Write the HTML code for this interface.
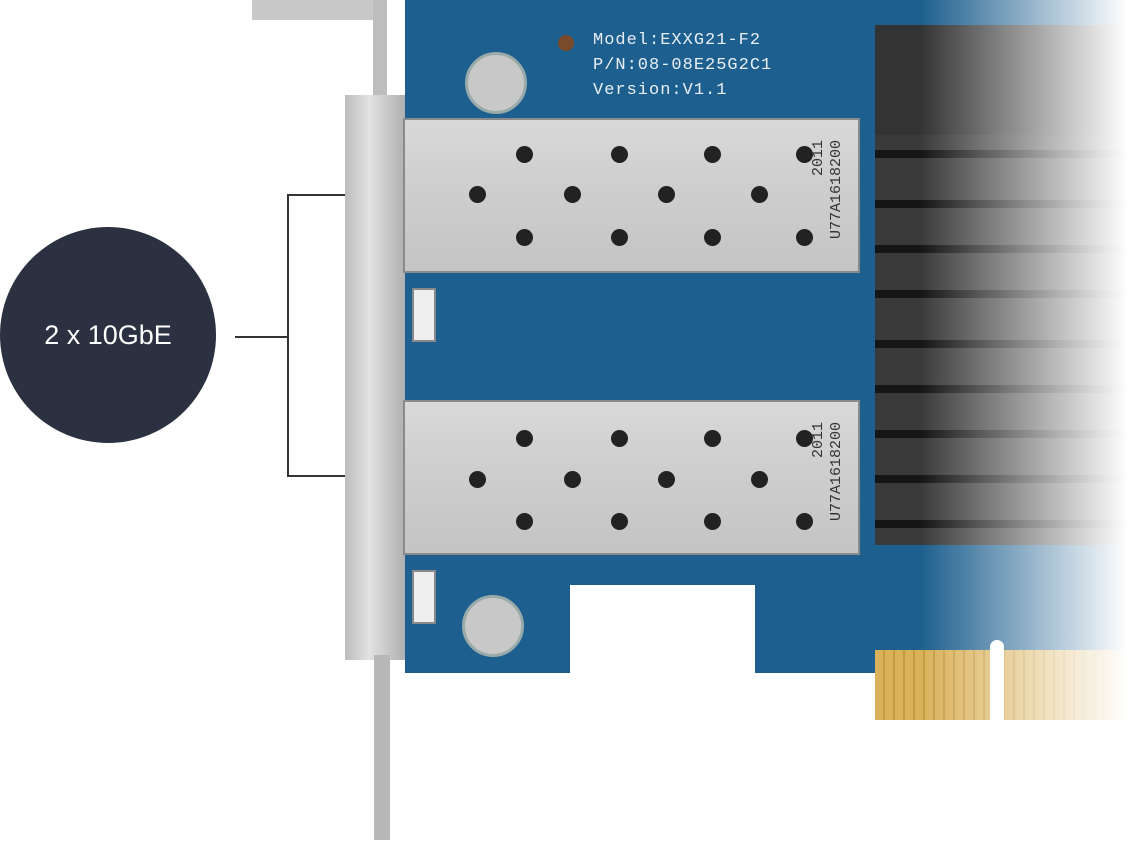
<!DOCTYPE html>
<html><head><style>
body{margin:0;width:1128px;height:848px;background:#fff;position:relative;overflow:hidden;font-family:"Liberation Sans",sans-serif}
.a{position:absolute}
.pcb{background:#1d5f8e}
.cage{background:linear-gradient(#d9d9d9,#cfcfcf 40%,#c4c4c4);border:2px solid #8a8a8a;box-sizing:border-box}
.h{position:absolute;width:17px;height:17px;border-radius:50%;background:#222}
.fin{position:absolute;left:0;right:0;height:8px;background:#151515}
.txt{color:#e8eef4;font-family:"Liberation Mono",monospace}
</style></head><body>
<div class="a pcb" style="left:405px;top:0;width:723px;height:585px"></div>
<div class="a pcb" style="left:405px;top:585px;width:165px;height:88px"></div>
<div class="a pcb" style="left:755px;top:585px;width:120px;height:88px"></div>
<div class="a pcb" style="left:875px;top:585px;width:253px;height:70px"></div>
<div class="a" style="left:875px;top:650px;width:253px;height:70px;background:repeating-linear-gradient(90deg,#d9b15a 0 8px,#c69a40 8px 10px)"></div>
<div class="a" style="left:990px;top:640px;width:14px;height:90px;background:#fff;border-radius:7px"></div>
<div class="a" style="left:875px;top:25px;width:253px;height:520px;background:#3a3a3a">
<div style="position:absolute;left:0;top:0;right:0;height:110px;background:#333"></div>
<div class="fin" style="top:125px"></div><div class="fin" style="top:175px"></div><div class="fin" style="top:220px"></div><div class="fin" style="top:265px"></div><div class="fin" style="top:315px"></div><div class="fin" style="top:360px"></div><div class="fin" style="top:405px"></div><div class="fin" style="top:450px"></div><div class="fin" style="top:495px"></div>
</div>
<div class="a" style="left:920px;top:0;width:208px;height:848px;background:linear-gradient(90deg,rgba(255,255,255,0),rgba(255,255,255,.55) 55%,#fff)"></div>
<div class="a txt" style="left:593px;top:28px;font-size:17px;line-height:25px;letter-spacing:1px">Model:EXXG21-F2<br>P/N:08-08E25G2C1<br>Version:V1.1</div>
<div class="a" style="left:558px;top:35px;width:16px;height:16px;border-radius:50%;background:#7a4a2a"></div>
<div class="a" style="left:465px;top:52px;width:56px;height:56px;border-radius:50%;background:#c8c8c8;border:3px solid #9aa"></div>
<div class="a" style="left:462px;top:595px;width:56px;height:56px;border-radius:50%;background:#c8c8c8;border:3px solid #9aa"></div>
<div class="a" style="left:252px;top:0;width:135px;height:20px;background:#c8c8c8"></div>
<div class="a" style="left:373px;top:0;width:14px;height:100px;background:#bdbdbd"></div>
<div class="a" style="left:345px;top:95px;width:60px;height:565px;background:linear-gradient(90deg,#bcbcbc,#e2e2e2 40%,#b0b0b0)"></div>
<div class="a" style="left:374px;top:655px;width:16px;height:185px;background:#b8b8b8"></div>
<div class="a" style="left:412px;top:288px;width:20px;height:50px;background:#eee;border:2px solid #888"></div>
<div class="a" style="left:412px;top:570px;width:20px;height:50px;background:#eee;border:2px solid #888"></div>
<div class="a cage" style="left:403px;top:118px;width:457px;height:155px">
<div class="h" style="left:111px;top:26px"></div><div class="h" style="left:206px;top:26px"></div><div class="h" style="left:299px;top:26px"></div><div class="h" style="left:391px;top:26px"></div>
<div class="h" style="left:64px;top:66px"></div><div class="h" style="left:159px;top:66px"></div><div class="h" style="left:253px;top:66px"></div><div class="h" style="left:346px;top:66px"></div>
<div class="h" style="left:111px;top:109px"></div><div class="h" style="left:206px;top:109px"></div><div class="h" style="left:299px;top:109px"></div><div class="h" style="left:391px;top:109px"></div>
<div style="position:absolute;left:405px;top:20px;transform:rotate(-90deg) translate(-100%,0);transform-origin:0 0;font:15px 'Liberation Mono',monospace;color:#333;line-height:18px;white-space:nowrap;text-align:right;width:110px">2011<br>U77A1618200</div>
</div>
<div class="a cage" style="left:403px;top:400px;width:457px;height:155px">
<div class="h" style="left:111px;top:28px"></div><div class="h" style="left:206px;top:28px"></div><div class="h" style="left:299px;top:28px"></div><div class="h" style="left:391px;top:28px"></div>
<div class="h" style="left:64px;top:69px"></div><div class="h" style="left:159px;top:69px"></div><div class="h" style="left:253px;top:69px"></div><div class="h" style="left:346px;top:69px"></div>
<div class="h" style="left:111px;top:111px"></div><div class="h" style="left:206px;top:111px"></div><div class="h" style="left:299px;top:111px"></div><div class="h" style="left:391px;top:111px"></div>
<div style="position:absolute;left:405px;top:20px;transform:rotate(-90deg) translate(-100%,0);transform-origin:0 0;font:15px 'Liberation Mono',monospace;color:#333;line-height:18px;white-space:nowrap;text-align:right;width:110px">2011<br>U77A1618200</div>
</div>
<div class="a" style="left:0;top:227px;width:216px;height:216px;border-radius:50%;background:#2b3140;color:#fff;font-size:27px;display:flex;align-items:center;justify-content:center">2 x 10GbE</div>
<div class="a" style="left:235px;top:336px;width:53px;height:2px;background:#333"></div>
<div class="a" style="left:287px;top:194px;width:58px;height:283px;border:2px solid #333;border-right:none;box-sizing:border-box"></div>
</body></html>
